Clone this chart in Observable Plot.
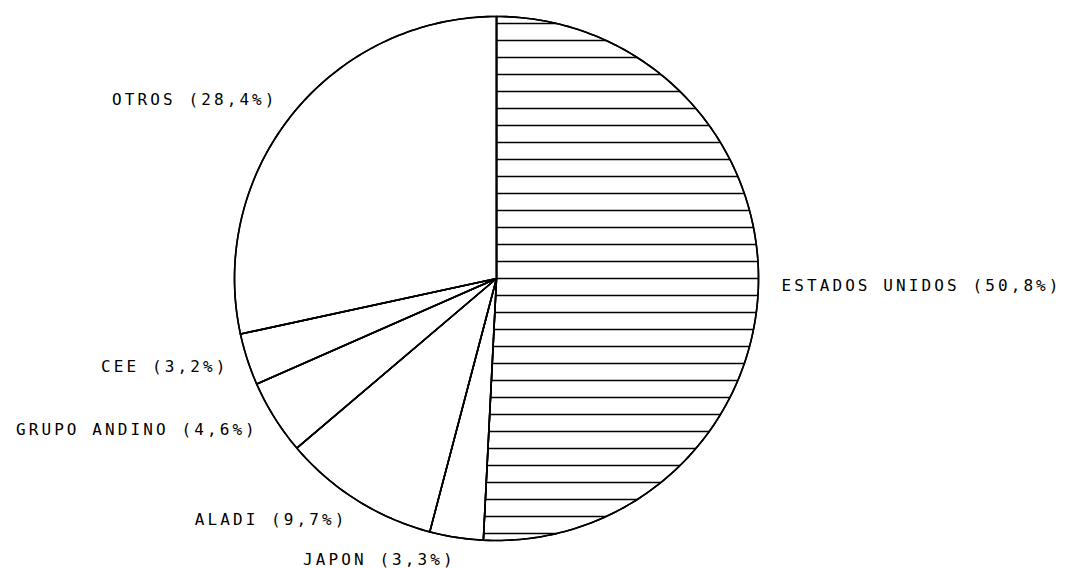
<!DOCTYPE html>
<html>
<head>
<meta charset="utf-8">
<script src="https://cdn.jsdelivr.net/npm/d3@7"></script>
<script src="https://cdn.jsdelivr.net/npm/@observablehq/plot@0.6"></script>
<style>
  html, body { margin: 0; padding: 0; background: #fff; }
  #chart { width: 1069px; height: 568px; }
</style>
</head>
<body>
<div id="chart"></div>
<script>
// Data
const names = ["ESTADOS UNIDOS", "JAPON", "ALADI", "GRUPO ANDINO", "CEE", "OTROS"];
const shares = [50.8, 3.3, 9.7, 4.6, 3.2, 28.4];
const hatched = ["ESTADOS UNIDOS"];

const rows = names.map((name, i) => ({name, share: shares[i]}));
const arcs = d3.pie().sort(null).value(d => d.share)(rows);

// Slice outlines (polygons in unit-circle coordinates, clockwise from 12 o'clock)
const slicePts = arcs.flatMap(a => {
  const n = Math.max(2, Math.ceil((a.endAngle - a.startAngle) / (Math.PI / 180)));
  const pts = [{name: a.data.name, x: 0, y: 0}];
  for (let i = 0; i <= n; i++) {
    const t = a.startAngle + (a.endAngle - a.startAngle) * i / n;
    pts.push({name: a.data.name, x: Math.sin(t), y: Math.cos(t)});
  }
  return pts;
});

// Horizontal hatching for the hatched slice (starts at 12 o'clock, ends past 6 o'clock)
const step = 17 / 262;
const hatchLines = arcs.filter(a => hatched.includes(a.data.name)).flatMap(a => {
  const a1 = a.endAngle;
  const kmax = Math.floor(1 / step);
  return d3.range(-kmax, kmax + 1).map(k => {
    const y = k * step;
    const xr = Math.sqrt(Math.max(0, 1 - y * y));
    const xl = y >= 0 ? 0 : y * Math.tan(a1);
    return {y, x1: xl, x2: xr};
  }).filter(d => d.x2 > d.x1 + 0.01);
});

// Labels at mid-angle just outside the pie
const fmt = v => v.toFixed(1).replace(".", ",");
const R = 1.088;
const labels = arcs.map(a => {
  const m = (a.startAngle + a.endAngle) / 2;
  return {
    text: `${a.data.name} (${fmt(a.data.share)}%)`,
    x: R * Math.sin(m),
    y: R * Math.cos(m),
    right: Math.sin(m) >= 0
  };
});

const cx = 496, cy = 278, r = 262;
const chart = Plot.plot({
  width: 1069,
  height: 568,
  margin: 0,
  x: {type: "linear", domain: [-1, 1], range: [cx - r, cx + r], axis: null},
  y: {type: "linear", domain: [-1, 1], range: [cy + r, cy - r], axis: null},
  style: {background: "#fff", letterSpacing: "3.1px"},
  marks: [
    Plot.line(slicePts, {x: "x", y: "y", z: "name", curve: "linear-closed",
      fill: "white", stroke: "black", strokeWidth: 1.6}),
    Plot.link(hatchLines, {x1: "x1", y1: "y", x2: "x2", y2: "y",
      stroke: "black", strokeWidth: 1.3}),
    Plot.line(slicePts, {x: "x", y: "y", z: "name", curve: "linear-closed",
      fill: "none", stroke: "black", strokeWidth: 1.6}),
    Plot.text(labels.filter(d => d.right), {x: "x", y: "y", text: "text",
      textAnchor: "start", fontSize: 16, fontFamily: "DejaVu Sans Mono", fill: "black"}),
    Plot.text(labels.filter(d => !d.right), {x: "x", y: "y", text: "text",
      textAnchor: "end", dx: 3, fontSize: 16, fontFamily: "DejaVu Sans Mono", fill: "black"})
  ]
});
document.getElementById("chart").appendChild(chart);
</script>
</body>
</html>
